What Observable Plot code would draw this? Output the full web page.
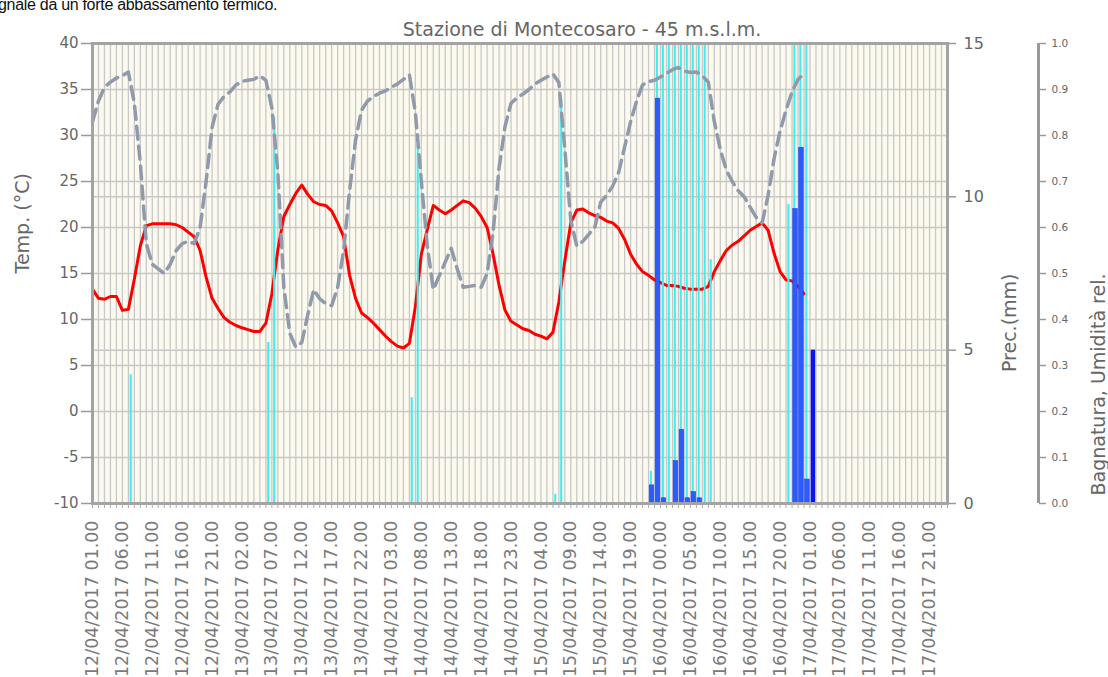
<!DOCTYPE html>
<html><head><meta charset="utf-8">
<script src="https://cdn.jsdelivr.net/npm/d3@7"></script>
<script src="https://cdn.jsdelivr.net/npm/@observablehq/plot@0.6"></script>
<style>
body{margin:0;background:#fff;overflow:hidden;}
#wrap{position:relative;width:1108px;height:677px;overflow:hidden;}
#wrap svg{position:absolute;left:0;top:0;}
#lead{position:absolute;left:-2px;top:-4px;font:16px "Liberation Sans",Arial,sans-serif;letter-spacing:-0.3px;color:#111;white-space:nowrap;line-height:18px;}
</style></head><body><div id="wrap"></div>
<script>
// hour index 0 = 12/04/2017 01.00
const temperature = [13.3,12.3,12.2,12.5,12.5,11.0,11.1,14.4,18.0,20.2,
  20.4,20.4,20.4,20.4,20.3,20.0,19.5,19.0,17.5,14.6,
  12.3,11.2,10.2,9.7,9.35,9.1,8.9,8.7,8.7,9.6,
  12.8,17.6,21.2,22.5,23.7,24.6,23.6,22.8,22.5,22.4,
  21.8,20.5,19.0,14.8,12.3,10.7,10.2,9.6,8.9,8.2,
  7.6,7.1,6.9,7.4,11.4,17.1,19.8,22.4,21.9,21.5,
  21.9,22.4,22.9,22.7,22.1,21.2,20.0,17.1,13.7,11.0,
  9.8,9.4,9.0,8.8,8.4,8.2,7.9,8.6,11.9,16.4,
  20.5,21.9,22.0,21.6,21.3,21.1,20.7,20.5,19.9,18.7,
  17.1,16.0,15.2,14.8,14.3,14.0,13.7,13.7,13.6,13.4,
  13.3,13.3,13.3,13.6,15.2,16.4,17.5,18.1,18.5,19.1,
  19.7,20.1,20.5,19.7,17.2,15.2,14.3,14.2,13.6,12.8];
const humidity = [0.83,0.875,0.905,0.916,0.925,0.93,0.938,0.87,0.74,0.565,
  0.52,0.51,0.50,0.52,0.55,0.565,0.57,0.565,0.60,0.70,
  0.818,0.868,0.885,0.895,0.91,0.918,0.92,0.922,0.93,0.92,
  0.86,0.72,0.47,0.37,0.34,0.35,0.41,0.465,0.445,0.435,
  0.43,0.47,0.55,0.68,0.79,0.855,0.875,0.885,0.892,0.897,
  0.905,0.912,0.922,0.932,0.85,0.70,0.56,0.465,0.495,0.525,
  0.555,0.51,0.47,0.472,0.474,0.47,0.50,0.59,0.73,0.82,
  0.87,0.882,0.89,0.90,0.912,0.92,0.927,0.934,0.915,0.77,
  0.615,0.56,0.57,0.585,0.60,0.655,0.67,0.69,0.72,0.775,
  0.83,0.875,0.91,0.917,0.92,0.927,0.935,0.943,0.948,0.94,
  0.937,0.938,0.93,0.916,0.83,0.77,0.725,0.70,0.68,0.667,
  0.644,0.622,0.61,0.67,0.75,0.81,0.855,0.895,0.922,0.934];
const precipHours  = [93, 94, 95, 97, 98, 99, 100, 101, 117, 118, 119];
const precipValues = [0.59, 13.2, 0.17, 1.38, 2.4, 0.17, 0.37, 0.17, 9.6, 11.6, 0.78];
const precip2Hours  = [120];
const precip2Values = [5.0];
const wetHours  = [6, 29, 30, 53, 54, 77, 78, 93, 94, 95, 96, 97, 98, 99, 100, 101, 102, 103, 116, 117, 118, 119];
const wetValues = [0.28, 0.35, 0.84, 0.23, 0.78, 0.02, 0.88, 0.07, 1, 1, 1, 1, 1, 1, 1, 1, 1, 0.53, 0.65, 1, 1, 1];
const tempTicks = [-10, -5, 0, 5, 10, 15, 20, 25, 30, 35, 40];
const precTicks = [0, 5, 10, 15];
const humTicks = [0, 0.1, 0.2, 0.3, 0.4, 0.5, 0.6, 0.7, 0.8, 0.9, 1.0];
const hourCount = 144;
const labelStep = 5;

const T0 = Date.UTC(2017, 3, 12, 1);
const fmt = d3.utcFormat("%d/%m/%Y %H.00");
const labelOf = i => fmt(new Date(T0 + i * 3600e3));
const precToY = v => -10 + v * 50 / 15;
const humToY = h => -10 + h * 50;

const tempData = temperature.map((t, i) => ({i, t}));
const humData = humidity.map((h, i) => ({i, h}));
const prec = precipHours.map((i, k) => ({i, v: precipValues[k]}));
const prec2 = precip2Hours.map((i, k) => ({i, v: precip2Values[k]}));
const wet = wetHours.map((i, k) => ({i, v: wetValues[k]}));
const hours = d3.range(0, hourCount);

const font = "DejaVu Sans";
const chart = Plot.plot({
  width: 1108, height: 677,
  marginLeft: 92, marginRight: 161, marginTop: 43, marginBottom: 174,
  x: {domain: [0, hourCount - 1], axis: null, label: null},
  y: {domain: [-10, 40], axis: null, label: null},
  style: {fontFamily: font, color: "#666", background: "transparent"},
  marks: [
    Plot.frame({fill: "#fcfaee", stroke: null}),
    Plot.gridX(hours, {stroke: "#c8c8c8", strokeOpacity: 1, strokeWidth: 1.3}),
    Plot.gridY(tempTicks, {stroke: "#c8c8c8", strokeOpacity: 1, strokeWidth: 1.5}),
    Plot.gridY(precTicks.map(precToY), {stroke: "#c8c8c8", strokeOpacity: 1, strokeWidth: 1.5}),
    Plot.line(tempData, {x: "i", y: "t", stroke: "#ff0000", strokeWidth: 3}),
    Plot.rect(wet, {x1: d => d.i + 0.3, x2: d => d.i + 0.65, y1: -10, y2: d => humToY(d.v), fill: "#3feef0"}),
    Plot.rect(prec, {x1: d => d.i + 0.2, x2: d => d.i + 0.95, y1: -10, y2: d => precToY(d.v), fill: "#2b5cff", stroke: "#1a3ee6", strokeWidth: 0.6}),
    Plot.rect(prec2, {x1: d => d.i + 0.2, x2: d => d.i + 0.95, y1: -10, y2: d => precToY(d.v), fill: "#0a14ee"}),
    Plot.line(humData, {x: "i", y: d => humToY(d.h), stroke: "#8f9aab", strokeWidth: 3.5, strokeDasharray: "13,7"}),
    Plot.frame({stroke: "#a3a3a3", strokeWidth: 3}),
    Plot.axisY(tempTicks, {anchor: "left", label: null, tickSize: 11, tickPadding: 3, fontSize: 15, stroke: "#999", strokeWidth: 1.5, tickFormat: d => String(d)}),
    Plot.axisY(precTicks.map(precToY), {anchor: "right", label: null, tickSize: 8, tickPadding: 8, fontSize: 16, stroke: "#999", strokeWidth: 1.5, tickFormat: d => String(Math.round((d + 10) * 15 / 50))}),
    Plot.ruleX([hourCount - 1], {dx: 91, y1: -10, y2: 40, stroke: "#999", strokeWidth: 3}),
    Plot.axisY(humTicks.map(humToY), {anchor: "right", label: null, dx: 91, tickSize: 7, tickPadding: 6, fontSize: 10.5, stroke: "#999", strokeWidth: 1.5, tickFormat: d => ((d + 10) / 50).toFixed(1)}),
    Plot.axisX(hours, {anchor: "bottom", label: null, tickSize: 5, tickFormat: () => "", stroke: "#aaa"}),
    Plot.axisX(d3.range(0, hourCount - 2, labelStep), {anchor: "bottom", label: null, tickSize: 0, tickPadding: 17, tickRotate: -90, fontSize: 17.5, fill: "#7a7a7a", tickFormat: labelOf}),
    Plot.text(["Temp. (°C)"], {text: d => d, frameAnchor: "left", dx: -70, rotate: -90, fontSize: 19, fill: "#666"}),
    Plot.text(["Prec.(mm)"], {text: d => d, frameAnchor: "right", dx: 62, rotate: -90, fontSize: 19, fill: "#666"}),
    Plot.text(["Bagnatura, Umidità rel."], {text: d => d, frameAnchor: "right", dx: 151, rotate: -90, fontSize: 19, fill: "#666"}),
    Plot.text(["Stazione di Montecosaro - 45 m.s.l.m."], {text: d => d, frameAnchor: "top", dx: 62, dy: -21, fontSize: 19, fill: "#666"})
  ]
});
const wrap = document.getElementById("wrap");
wrap.appendChild(chart);
const lead = document.createElement("div");
lead.id = "lead";
lead.textContent = "gnale da un forte abbassamento termico.";
wrap.appendChild(lead);
</script>
</body></html>
